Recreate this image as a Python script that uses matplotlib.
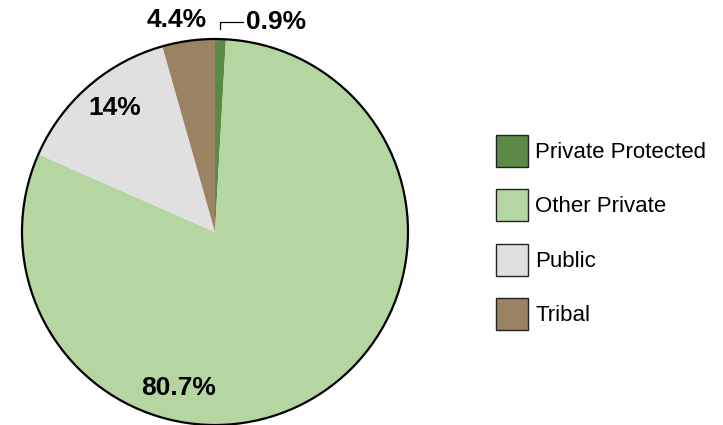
import matplotlib
matplotlib.use("Agg")
import matplotlib.pyplot as plt
from matplotlib.patches import Circle, Rectangle

# Land ownership shares (percent)
categories = ["Private Protected", "Other Private", "Public", "Tribal"]
shares = [0.9, 80.7, 14.0, 4.4]
share_labels = ["0.9%", "80.7%", "14%", "4.4%"]
colors = ["#5b8a46", "#b5d6a0", "#e0e0e0", "#9a8262"]

plt.rcParams['font.family'] = ['Liberation Sans', 'DejaVu Sans']

W, H = 723, 425
fig = plt.figure(figsize=(W / 100, H / 100), dpi=100)
# pie axes: center ~(215, 232) px, radius ~193 px
r_px = 193
lim = 1.02
side = 2 * lim * r_px
ax = fig.add_axes([(215 - side / 2) / W, (H - 232 - side / 2) / H,
                   side / W, side / H])

wedges, _ = ax.pie(shares, colors=colors, startangle=90, counterclock=False,
                   wedgeprops=dict(linewidth=0))
ax.add_patch(Circle((0, 0), 1, fill=False, edgecolor='black', linewidth=1.6))
ax.set_xlim(-lim, lim)
ax.set_ylim(-lim, lim)
ax.set_aspect('equal')
ax.axis('off')

# percentage labels
label_pos = {"80.7%": (-0.19, -0.81), "14%": (-0.52, 0.64),
             "4.4%": (-0.20, 1.098), "0.9%": (0.318, 1.09)}
for lab in share_labels:
    x, y = label_pos[lab]
    ax.text(x, y, lab, ha='center', va='center', fontsize=19,
            fontweight='bold', color='black', clip_on=False)

# leader line for the small slice
ax.plot([0.026, 0.026, 0.145], [1.05, 1.09, 1.09], color='black',
        linewidth=0.9, clip_on=False)

# legend: boxes and labels, in pixel positions
box = 32
for i, (name, c) in enumerate(zip(categories, colors)):
    yc = 151 + i * 54.3
    fig.add_artist(Rectangle((496 / W, (H - yc - box / 2) / H), box / W, box / H,
                             facecolor=c, edgecolor='#222222', linewidth=1.0,
                             transform=fig.transFigure))
    fig.text(535 / W, (H - yc - 1.5) / H, name, ha='left', va='center',
             fontsize=16, color='black')

fig.savefig("out.png", dpi=100)
